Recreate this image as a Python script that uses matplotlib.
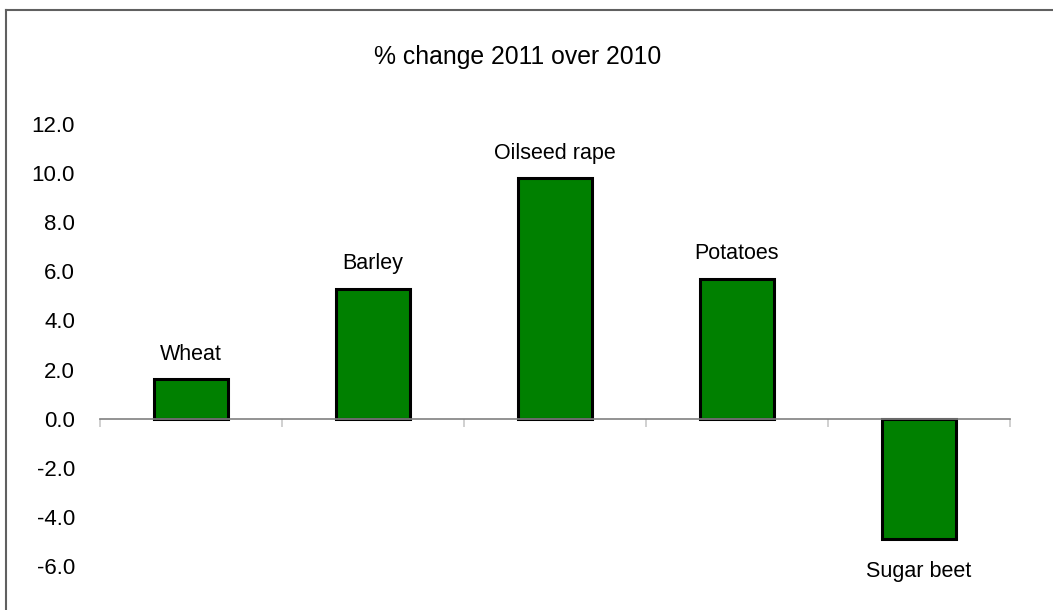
import matplotlib
matplotlib.use("Agg")
import matplotlib.pyplot as plt
from matplotlib.lines import Line2D

plt.rcParams['font.family'] = ['Liberation Sans', 'DejaVu Sans']

categories = ["Wheat", "Barley", "Oilseed rape", "Potatoes", "Sugar beet"]
values = [1.6, 5.3, 9.8, 5.7, -4.9]
yticks = [-6.0, -4.0, -2.0, 0.0, 2.0, 4.0, 6.0, 8.0, 10.0, 12.0]
title = "% change 2011 over 2010"

W, H = 1053, 610
fig = plt.figure(figsize=(W / 100, H / 100), dpi=100)
ax = fig.add_axes([100 / W, 1 - 566 / H, 910 / W, 442 / H])

x = list(range(len(categories)))
ax.bar(x, values, width=0.41, color="#008000", edgecolor="black", linewidth=2.2, zorder=3)

ax.set_xlim(-0.5, len(categories) - 0.5)
ax.set_ylim(-6, 12)
ax.set_yticks(yticks)
ax.set_yticklabels([f"{v:.1f}" for v in yticks], fontsize=16)
ax.tick_params(axis="y", length=0, pad=18)

ax.set_xticks([i - 0.5 for i in range(len(categories) + 1)])
ax.set_xticklabels([])
ax.tick_params(axis="x", direction="out", length=6, width=1.2, color="#c8c8c8")

for s in ["top", "right", "left"]:
    ax.spines[s].set_visible(False)
ax.spines["bottom"].set_position(("data", 0))
ax.spines["bottom"].set_color("#808080")
ax.spines["bottom"].set_linewidth(1.2)
ax.spines["bottom"].set_zorder(4)

for xi, v, name in zip(x, values, categories):
    if v >= 0:
        ax.annotate(name, (xi, v), xytext=(0, 14), textcoords="offset points",
                    ha="center", va="baseline", fontsize=15.5)
    else:
        ax.annotate(name, (xi, v), xytext=(0, -16), textcoords="offset points",
                    ha="center", va="top", fontsize=15.5)

fig.text(518 / W, 1 - 64 / H, title, ha="center", va="baseline", fontsize=17.8)

# outer frame (top and left edges visible)
fig.add_artist(Line2D([5.5 / W, 1.0], [1 - 10 / H, 1 - 10 / H], transform=fig.transFigure,
                      color="#606060", linewidth=1.5))
fig.add_artist(Line2D([5.5 / W, 5.5 / W], [0.0, 1 - 10 / H], transform=fig.transFigure,
                      color="#606060", linewidth=1.5))

fig.savefig("out.png", dpi=100)
